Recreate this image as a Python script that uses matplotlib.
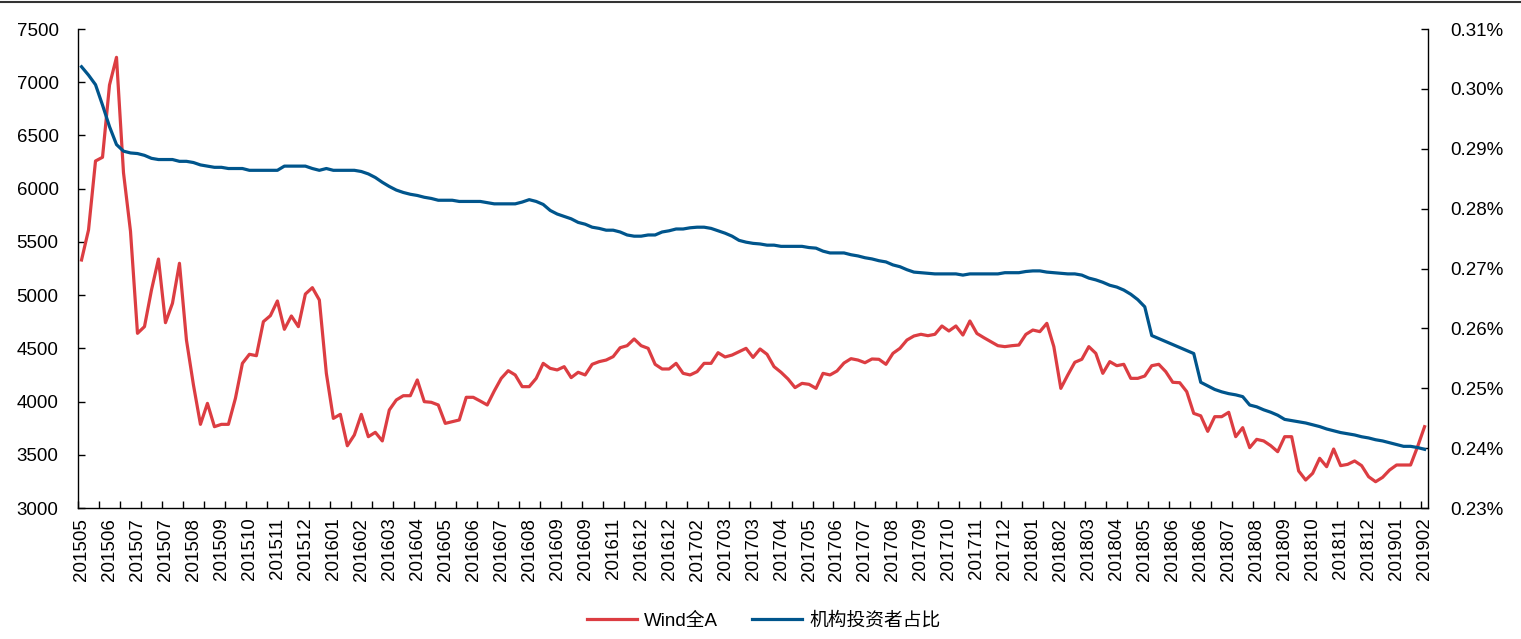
import numpy as np
import matplotlib.pyplot as plt
from matplotlib.lines import Line2D
from matplotlib.ticker import FuncFormatter

plt.rcParams['font.family'] = ['Liberation Sans', 'Noto Sans CJK SC']

# Etiquetas del eje X (una cada 4 semanas)
date_labels = ['201505', '201506', '201507', '201507', '201508', '201509', '201510',
               '201511', '201512', '201601', '201602', '201603', '201604', '201605',
               '201606', '201607', '201608', '201609', '201609', '201611', '201612',
               '201612', '201702', '201703', '201703', '201704', '201705', '201706',
               '201707', '201708', '201709', '201710', '201711', '201712', '201801',
               '201802', '201803', '201804', '201805', '201806', '201806', '201807',
               '201808', '201809', '201810', '201811', '201812', '201901', '201902']

# Wind全A (semanal, eje izquierdo)
wind_a = [
    5330, 5612, 6260, 6295, 6974, 7234, 6150, 5600, 4641, 4704,
    5048, 5339, 4741, 4923, 5299, 4578, 4156, 3786, 3983, 3764,
    3786, 3786, 4030, 4359, 4444, 4431, 4751, 4807, 4945, 4679,
    4804, 4704, 5010, 5070, 4954, 4265, 3842, 3880, 3585, 3686,
    3880, 3670, 3711, 3630, 3921, 4015, 4055, 4055, 4203, 3999,
    3993, 3968, 3795, 3811, 3827, 4040, 4040, 4005, 3968, 4099,
    4218, 4290, 4250, 4140, 4140, 4218, 4359, 4312, 4297, 4328,
    4225, 4275, 4250, 4350, 4375, 4390, 4422, 4506, 4525, 4588,
    4525, 4500, 4350, 4306, 4306, 4359, 4265, 4250, 4281, 4359,
    4359, 4459, 4419, 4437, 4469, 4500, 4415, 4494, 4444, 4328,
    4275, 4212, 4131, 4171, 4162, 4124, 4265, 4250, 4287, 4362,
    4403, 4390, 4365, 4400, 4397, 4350, 4453, 4500, 4578, 4616,
    4632, 4619, 4632, 4710, 4663, 4710, 4625, 4757, 4640, 4600,
    4563, 4525, 4516, 4525, 4531, 4631, 4672, 4657, 4735, 4516,
    4124, 4250, 4369, 4397, 4516, 4453, 4265, 4375, 4337, 4350,
    4218, 4218, 4240, 4337, 4350, 4281, 4181, 4177, 4093, 3889,
    3866, 3720, 3858, 3858, 3899, 3670, 3755, 3567, 3645, 3630,
    3586, 3529, 3670, 3670, 3348, 3263, 3326, 3467, 3388, 3554,
    3398, 3410, 3442, 3398, 3294, 3247, 3288, 3357, 3404, 3404,
    3404, 3576, 3764]

# 机构投资者占比 (%, eje derecho)
inst_ratio = [
    0.3037, 0.3023, 0.3007, 0.2973, 0.2937, 0.2907, 0.2896, 0.2893, 0.2892, 0.2889,
    0.2884, 0.2882, 0.2882, 0.2882, 0.2879, 0.2879, 0.2877, 0.2873, 0.2871, 0.2869,
    0.2869, 0.2867, 0.2867, 0.2867, 0.2864, 0.2864, 0.2864, 0.2864, 0.2864, 0.2871,
    0.2871, 0.2871, 0.2871, 0.2867, 0.2864, 0.2867, 0.2864, 0.2864, 0.2864, 0.2864,
    0.2862, 0.2858, 0.2852, 0.2844, 0.2837, 0.2831, 0.2827, 0.2824, 0.2822, 0.2819,
    0.2817, 0.2814, 0.2814, 0.2814, 0.2812, 0.2812, 0.2812, 0.2812, 0.2810, 0.2808,
    0.2808, 0.2808, 0.2808, 0.2811, 0.2815, 0.2812, 0.2807, 0.2797, 0.2791, 0.2787,
    0.2783, 0.2777, 0.2774, 0.2769, 0.2767, 0.2764, 0.2764, 0.2761, 0.2756, 0.2754,
    0.2754, 0.2756, 0.2756, 0.2761, 0.2763, 0.2766, 0.2766, 0.2768, 0.2769, 0.2769,
    0.2767, 0.2763, 0.2759, 0.2754, 0.2747, 0.2744, 0.2742, 0.2741, 0.2739, 0.2739,
    0.2737, 0.2737, 0.2737, 0.2737, 0.2735, 0.2734, 0.2729, 0.2726, 0.2726, 0.2726,
    0.2723, 0.2721, 0.2718, 0.2716, 0.2713, 0.2711, 0.2706, 0.2703, 0.2698, 0.2694,
    0.2693, 0.2692, 0.2691, 0.2691, 0.2691, 0.2691, 0.2689, 0.2691, 0.2691, 0.2691,
    0.2691, 0.2691, 0.2693, 0.2693, 0.2693, 0.2695, 0.2696, 0.2696, 0.2694, 0.2693,
    0.2692, 0.2691, 0.2691, 0.2689, 0.2684, 0.2681, 0.2677, 0.2672, 0.2669, 0.2664,
    0.2657, 0.2648, 0.2636, 0.2588, 0.2583, 0.2578, 0.2573, 0.2568, 0.2563, 0.2558,
    0.2510, 0.2504, 0.2498, 0.2494, 0.2491, 0.2489, 0.2486, 0.2472, 0.2469, 0.2464,
    0.2460, 0.2455, 0.2448, 0.2446, 0.2444, 0.2442, 0.2439, 0.2436, 0.2432, 0.2429,
    0.2426, 0.2424, 0.2422, 0.2419, 0.2417, 0.2414, 0.2412, 0.2409, 0.2406, 0.2403,
    0.2403, 0.2401, 0.2398]

red = '#DC3D42'
blue = '#00558C'

if __name__ == '__main__':
    n = len(wind_a)
    x = np.arange(n)

    fig = plt.figure(figsize=(15.21, 6.39), dpi=100)
    ax1 = fig.add_axes([0.0513, 0.205, 0.8876, 0.7496])
    ax2 = ax1.twinx()

    ax1.plot(x, wind_a, color=red, lw=2.3, label='Wind全A')
    ax2.plot(x, inst_ratio, color=blue, lw=2.3, label='机构投资者占比')

    # Eje X: etiquetas cada 4 semanas, marcas cada 3
    step = (n - 1) // (len(date_labels) - 1)
    ax1.set_xlim(-0.5, n - 0.5)
    ax1.set_xticks(np.arange(0, n, step), date_labels, rotation=90, fontsize=13.5)
    ax1.set_xticks(np.arange(-0.5, n, 3), minor=True)
    ax1.tick_params(axis='x', which='major', length=0, pad=7)
    ax1.tick_params(axis='x', which='minor', length=5, width=1, direction='in')

    ax1.set_ylim(3000, 7500)
    ax1.set_yticks(np.arange(3000, 7501, 500))
    ax1.tick_params(axis='y', length=5, width=1, direction='in', labelsize=13.5, pad=14)

    ax2.set_ylim(0.23, 0.31)
    ax2.set_yticks(np.arange(0.23, 0.3101, 0.01))
    ax2.yaxis.set_major_formatter(FuncFormatter(lambda v, p: '{:.2f}%'.format(v)))
    ax2.tick_params(axis='y', length=5, width=1, direction='in', labelsize=13.5, pad=16)

    for ax in (ax1, ax2):
        ax.spines['top'].set_visible(False)
        for s in ('left', 'right', 'bottom'):
            ax.spines[s].set_linewidth(1.0)
            ax.spines[s].set_color('black')
    ax1.spines['right'].set_visible(False)
    ax2.spines['left'].set_visible(False)
    ax2.spines['bottom'].set_visible(False)

    # Leyenda abajo
    h1, l1 = ax1.get_legend_handles_labels()
    h2, l2 = ax2.get_legend_handles_labels()
    fig.legend(h1 + h2, l1 + l2, loc='center', bbox_to_anchor=(0.502, 0.028), ncol=2,
               frameon=False, fontsize=13.5, handlelength=2.7, handletextpad=0.35,
               columnspacing=1.8)

    # Linea superior
    fig.add_artist(Line2D([0, 1], [0.997, 0.997], color='#333333', lw=1.5))

    fig.savefig('out.png', dpi=100)
